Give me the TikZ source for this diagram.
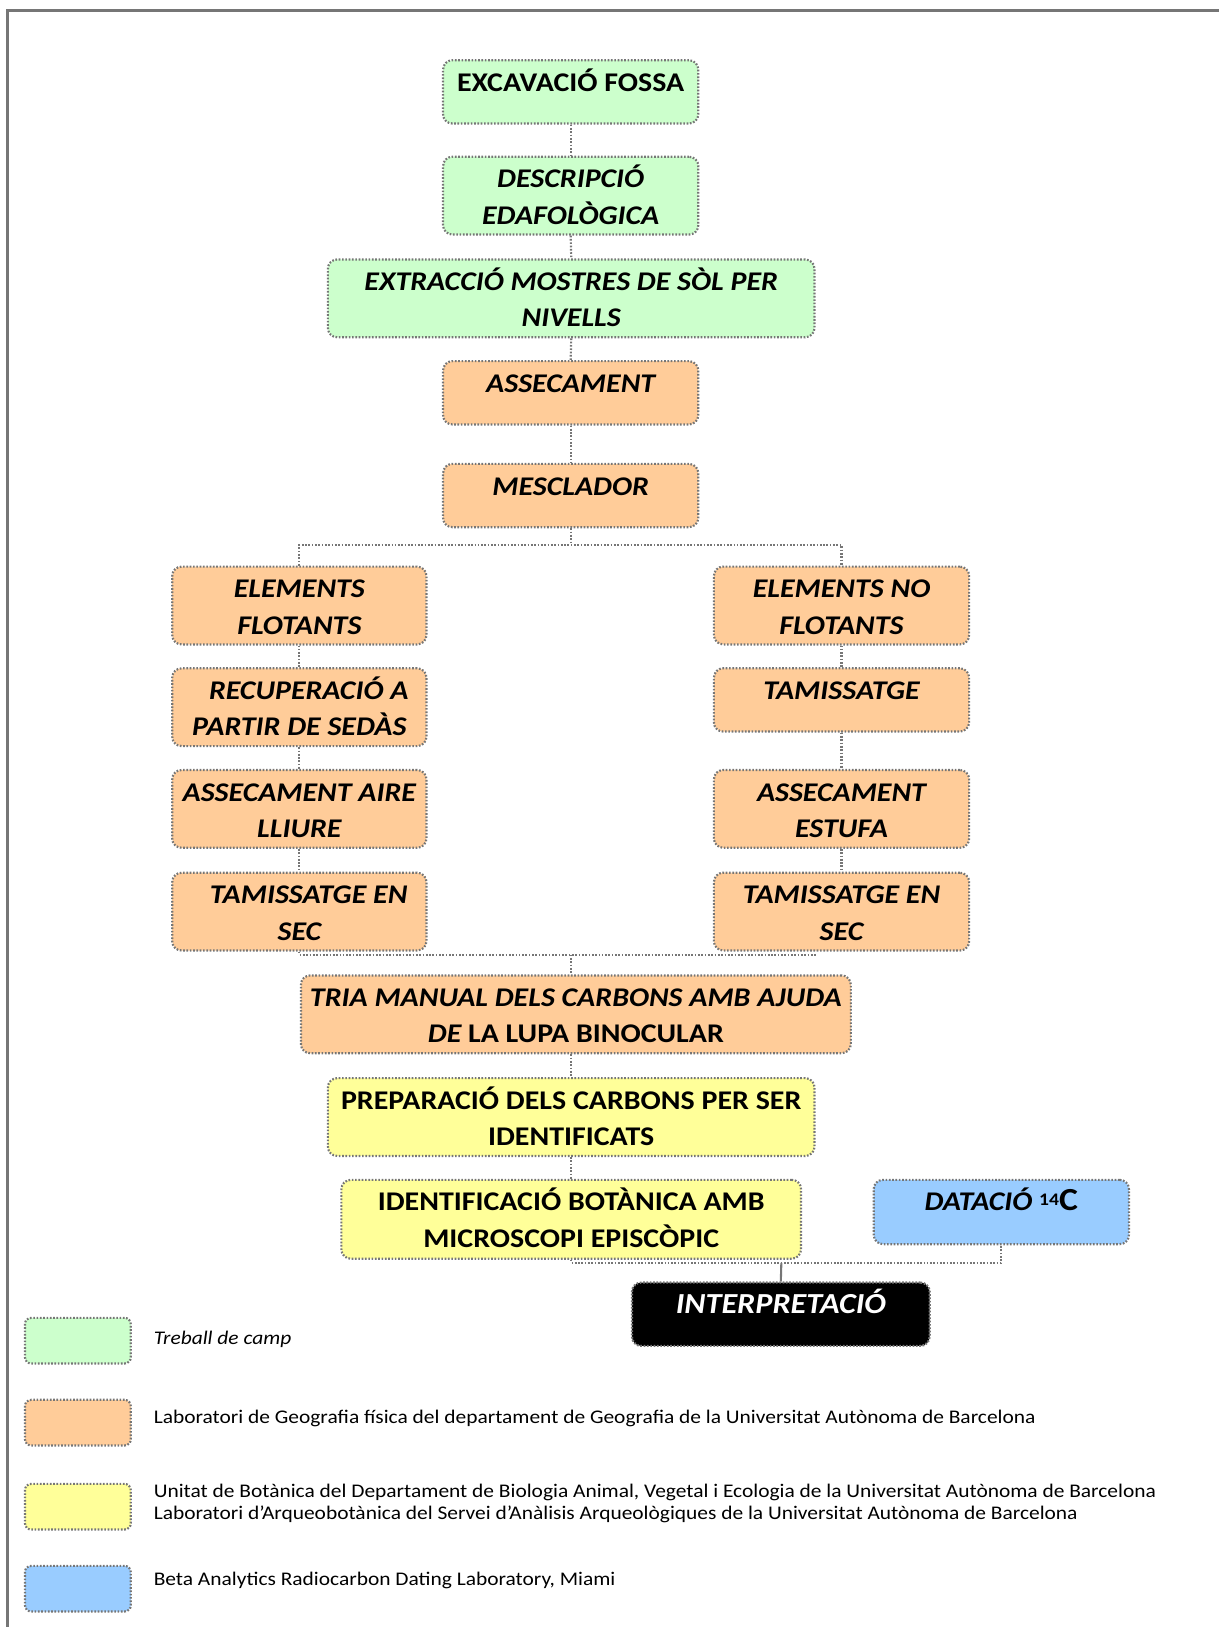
\documentclass[tikz,border=0pt]{standalone}
\usepackage{fontspec}
\setmainfont[FakeStretch=1.11]{Carlito}
\definecolor{bordergray}{HTML}{767676}
\definecolor{fgreen}{HTML}{CCFFCC}
\definecolor{forange}{HTML}{FFCC99}
\definecolor{fyellow}{HTML}{FFFF99}
\definecolor{fblue}{HTML}{99CCFF}
\newcommand\flowtxt[3]{\begin{minipage}[c][#2pt][t]{#1pt}\centering\fontsize{26}{35}\selectfont\rule{0pt}{30pt}#3\end{minipage}}
\tikzset{
  fbox/.style={draw=bordergray, line width=2.1pt, dash pattern=on 1.6pt off 1.6pt,
    rounded corners=9pt, inner sep=0pt, anchor=north},
  conn/.style={draw=bordergray, line width=2.1pt, dash pattern=on 1.6pt off 1.6pt},
  lbox/.style={draw=bordergray, line width=2.1pt, dash pattern=on 1.6pt off 1.6pt,
    rounded corners=6pt, inner sep=0pt, minimum width=102pt, minimum height=44pt, anchor=north west},
  ltext/.style={anchor=west, inner sep=0pt, align=left, font=\fontsize{18.6}{22}\selectfont},
}
\begin{document}
\begin{tikzpicture}[x=1pt,y=-1pt]
\useasboundingbox (0,0) rectangle (1175,1568);
% frame
\draw[bordergray, line width=2.5pt] (7,1568) -- (7,10) -- (1175,10);
% boxes
\node[fbox, fill=fgreen] (b1) at (550,57) {\flowtxt{246}{61}{\bfseries EXCAVACIÓ FOSSA}};
\node[fbox, fill=fgreen] (b2) at (550,150) {\flowtxt{246}{75}{\bfseries\itshape DESCRIPCIÓ\\EDAFOLÒGICA}};
\node[fbox, fill=fgreen] (b3) at (550.5,249) {\flowtxt{469}{75}{\bfseries\itshape EXTRACCIÓ MOSTRES DE SÒL PER\\NIVELLS}};
\node[fbox, fill=forange] (b4) at (550,347) {\flowtxt{246}{61}{\bfseries\itshape ASSECAMENT}};
\node[fbox, fill=forange] (b5) at (550,446) {\flowtxt{246}{61}{\bfseries\itshape MESCLADOR}};
\node[fbox, fill=forange] (b6) at (288.5,545) {\flowtxt{245}{75}{\bfseries\itshape ELEMENTS\\FLOTANTS}};
\node[fbox, fill=forange] (b7) at (811,545) {\flowtxt{246}{75}{\bfseries\itshape ELEMENTS NO\\FLOTANTS}};
\node[fbox, fill=forange] (b8) at (288.5,643) {\flowtxt{245}{75}{\bfseries\itshape \hspace*{18pt}RECUPERACIÓ A\\PARTIR DE SEDÀS}};
\node[fbox, fill=forange] (b9) at (811,643) {\flowtxt{246}{61}{\bfseries\itshape TAMISSATGE}};
\node[fbox, fill=forange] (b10) at (288.5,741) {\flowtxt{245}{75}{\bfseries\itshape ASSECAMENT AIRE\\LLIURE}};
\node[fbox, fill=forange] (b11) at (811,741) {\flowtxt{246}{75}{\bfseries\itshape ASSECAMENT\hspace*{-16pt}\\ESTUFA}};
\node[fbox, fill=forange] (b12) at (288.5,840) {\flowtxt{245}{75}{\bfseries\itshape \hspace*{18pt}TAMISSATGE EN\\SEC}};
\node[fbox, fill=forange] (b13) at (811,840) {\flowtxt{246}{75}{\bfseries\itshape TAMISSATGE EN\\SEC}};
\node[fbox, fill=forange] (b14) at (555,939) {\flowtxt{530}{75}{\bfseries\itshape TRIA MANUAL DELS CARBONS AMB AJUDA\\DE \upshape LA LUPA BINOCULAR}};
\node[fbox, fill=fyellow] (b15) at (550.5,1038) {\flowtxt{469}{75}{\bfseries PREPARACIÓ DELS CARBONS PER SER\\IDENTIFICATS}};
\node[fbox, fill=fyellow] (b16) at (550.5,1136) {\flowtxt{443}{76}{\bfseries IDENTIFICACIÓ BOTÀNICA AMB\\MICROSCOPI EPISCÒPIC}};
\node[fbox, fill=fblue] (b17) at (965,1136) {\flowtxt{246}{62}{\bfseries\itshape DATACIÓ \upshape\raisebox{5pt}{\fontsize{17}{17}\selectfont 14}{\fontsize{31}{35}\selectfont C}}};
\node[fbox, fill=black] (b18) at (752.5,1235) {\flowtxt{287}{61}{\color{white}\bfseries\itshape\fontsize{28}{35}\selectfont INTERPRETACIÓ}};
% connectors
\draw[conn] (b1.south) -- (b2.north);
\draw[conn] (b2.south) -- (b3.north);
\draw[conn] (b3.south) -- (b4.north);
\draw[conn] (b4.south) -- (b5.north);
\coordinate (sp) at (550,525);
\draw[conn] (b5.south) -- (sp);
\draw[conn] (b6.north) |- (sp) -| (b7.north);
\draw[conn] (b6.south) -- (b8.north);
\draw[conn] (b8.south) -- (b10.north);
\draw[conn] (b10.south) -- (b12.north);
\draw[conn] (b7.south) -- (b9.north);
\draw[conn] (b9.south) -- (b11.north);
\draw[conn] (b11.south) -- (b13.north);
\coordinate (mg) at (550,920);
\coordinate (mr) at (786,920);
\draw[conn] (b12.south) |- (mg) -- (mr);
\draw[conn] (mg) -- (mg |- b14.north);
\draw[conn] (b14.south -| mg) -- (b15.north -| mg);
\draw[conn] (b15.south) -- (b16.north);
\coordinate (bt) at (753,1217);
\draw[conn] (b16.south) |- (bt) -| (b17.south);
\draw[bordergray, line width=2pt] (bt) -- (b18.north);
% legend
\node[lbox, fill=fgreen] (l1) at (23,1269) {};
\node[lbox, fill=forange] (l2) at (23,1348) {};
\node[lbox, fill=fyellow] (l3) at (23,1429) {};
\node[lbox, fill=fblue] (l4) at (23,1508) {};
\node[ltext] (t1) at (148,1291) {\itshape Treball de camp};
\node[ltext] (t2) at (148,1367) {Laboratori de Geografia física del departament de Geografia de la Universitat Autònoma de Barcelona};
\node[ltext] (t3) at (148,1449) {Unitat de Botànica del Departament de Biologia Animal, Vegetal i Ecologia de la Universitat Autònoma de Barcelona\\Laboratori d’Arqueobotànica del Servei d’Anàlisis Arqueològiques de la Universitat Autònoma de Barcelona};
\node[ltext] (t4) at (148,1523) {Beta Analytics Radiocarbon Dating Laboratory, Miami};
\end{tikzpicture}
\end{document}
